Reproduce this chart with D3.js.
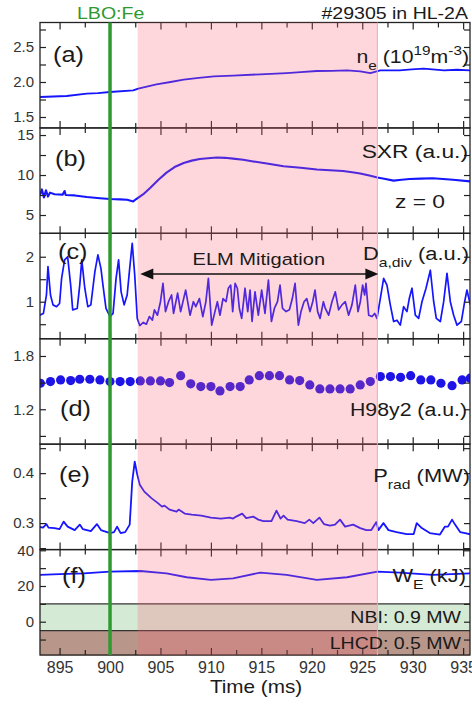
<!DOCTYPE html>
<html>
<head>
<meta charset="utf-8">
<script src="https://cdn.jsdelivr.net/npm/d3@7.9.0/dist/d3.min.js"></script>
<style>
  body { margin: 0; background: #fff; }
  svg { display: block; font-family: "Liberation Sans", Arial, sans-serif; }
</style>
</head>
<body>
<svg id="chart" width="472" height="706"></svg>
<script>
// ---- data (time in ms) ----
const timeTicks = [895, 900, 905, 910, 915, 920, 925, 930, 935];
const minorTicks = [897.5, 902.5, 907.5, 912.5, 917.5, 922.5, 927.5, 932.5];
const lboTime = 900;
const mitigation = [902.74, 926.5];

// (a) density, 10^19 m^-3
const neData = [
  [893.06, 1.786], [895.7, 1.80], [897.7, 1.833], [898.8, 1.84], [900.0, 1.857],
  [902.3, 1.88], [902.8, 1.905], [904.6, 1.967], [906.0, 2.0], [907.3, 2.033],
  [908.8, 2.06], [910.3, 2.081], [912.2, 2.09], [914.9, 2.11], [917.5, 2.128],
  [918.9, 2.14], [920.5, 2.157], [922.0, 2.16], [923.5, 2.167], [924.8, 2.152],
  [925.8, 2.128], [926.8, 2.167], [928.7, 2.167], [929.9, 2.18], [931.1, 2.19],
  [933.1, 2.167], [934.4, 2.175], [935.7, 2.167]
];

// (b) SXR, a.u.
const sxrData = [
  [893.06, 7.5], [893.25, 8.2], [893.45, 7.2], [893.65, 8.1], [893.85, 7.3], [894.05, 7.8],
  [894.5, 7.6], [895.3, 7.55], [895.5, 8.0], [895.6, 7.5], [896.5, 7.45], [897.7, 7.25],
  [899.0, 7.1], [900.0, 7.0], [901.0, 6.95], [901.7, 6.9], [902.3, 6.7], [902.6, 7.0],
  [903.3, 7.6], [904.0, 8.4], [904.8, 9.4], [905.6, 10.3], [906.4, 11.0], [907.3, 11.5],
  [908.1, 11.8], [908.9, 12.0], [909.7, 12.1], [910.6, 12.2], [911.4, 12.15], [912.2, 12.05],
  [913.2, 11.9], [914.2, 11.7], [915.7, 11.4], [917.2, 11.1], [918.9, 10.9], [920.5, 10.7],
  [921.8, 10.6], [923.1, 10.5], [924.0, 10.35], [924.8, 10.2], [925.7, 9.95], [926.5, 9.7],
  [927.3, 9.5], [928.1, 9.3], [928.9, 9.4], [929.7, 9.5], [930.8, 9.55], [932.0, 9.6],
  [933.0, 9.5], [934.0, 9.4], [935.7, 9.2]
];

// (c) D-alpha at divertor, a.u.
const dalphaData = [
  [893.0, 0.70], [893.4, 0.74], [893.7, 1.15], [893.85, 1.78], [894.1, 1.15], [894.35, 0.93],
  [894.7, 0.89], [895.0, 0.96], [895.2, 1.52], [895.5, 1.93], [895.8, 2.0], [896.1, 1.37],
  [896.3, 0.82], [896.75, 0.85], [897.0, 1.37], [897.2, 1.93], [897.5, 1.30], [897.8, 0.89],
  [898.1, 0.93], [898.5, 1.67], [898.8, 2.04], [899.1, 1.74], [899.3, 1.37], [899.6, 0.85],
  [900.0, 0.67], [900.3, 0.74], [900.6, 1.52], [900.85, 1.93], [901.1, 1.22], [901.4, 0.93],
  [901.7, 1.15], [901.95, 1.74], [902.2, 2.30], [902.45, 1.59], [902.7, 0.63], [902.95, 0.47],
  [903.3, 0.54], [903.6, 0.50], [903.9, 0.67], [904.2, 0.59], [904.4, 0.82], [904.7, 0.70],
  [905.0, 1.0], [905.25, 1.41], [905.5, 0.78], [905.8, 1.0], [906.1, 1.15], [906.3, 0.74],
  [906.7, 1.19], [907.0, 0.78], [907.5, 1.26], [907.93, 0.70], [908.26, 1.0], [908.5, 0.89],
  [908.86, 1.07], [909.2, 0.67], [909.5, 1.0], [909.75, 1.52], [910.08, 0.48], [910.4, 0.78],
  [910.64, 1.0], [910.9, 0.70], [911.2, 1.07], [911.5, 1.0], [911.73, 1.30], [911.96, 1.37],
  [912.16, 0.78], [912.4, 1.41], [912.62, 1.30], [912.82, 0.85], [913.05, 0.63], [913.38, 1.30],
  [913.65, 0.78], [913.88, 1.26], [914.08, 0.56], [914.37, 1.22], [914.7, 0.70], [915.03, 1.26],
  [915.36, 0.74], [915.7, 1.48], [916.0, 0.56], [916.29, 0.85], [916.6, 1.0], [916.85, 1.37],
  [917.1, 0.85], [917.45, 0.78], [917.78, 0.82], [918.07, 1.07], [918.34, 1.41], [918.67, 0.48],
  [918.93, 0.78], [919.23, 1.0], [919.5, 1.07], [919.82, 0.78], [920.09, 1.0], [920.32, 1.26],
  [920.58, 0.78], [920.82, 0.63], [921.15, 1.0], [921.34, 0.85], [921.67, 0.70], [922.0, 1.0],
  [922.33, 1.22], [922.66, 0.82], [922.99, 0.93], [923.32, 1.0], [923.65, 0.70], [923.98, 0.93],
  [924.31, 1.37], [924.58, 0.78], [924.81, 1.0], [925.04, 1.37], [925.24, 1.15], [925.37, 1.41],
  [925.64, 0.70], [925.97, 0.67], [926.23, 0.74], [926.46, 0.63], [926.79, 1.07], [927.12, 1.52],
  [927.45, 1.37], [927.78, 0.93], [928.11, 0.56], [928.44, 0.59], [928.77, 0.48], [929.1, 0.89],
  [929.43, 0.78], [929.66, 1.07], [929.93, 1.30], [930.26, 0.70], [930.59, 0.63], [930.92, 1.0],
  [931.32, 1.30], [931.75, 1.70], [932.08, 1.0], [932.34, 0.63], [932.74, 0.56], [933.07, 1.0],
  [933.4, 1.63], [933.73, 1.0], [934.06, 0.70], [934.39, 0.48], [934.82, 0.56], [935.15, 1.0],
  [935.38, 1.26], [935.71, 0.93]
];

// (d) H98y2, a.u.
const h98Times = [
  893.1, 894.1, 895.1, 896.1, 897.0, 898.0, 899.0, 900.0, 901.0, 902.0, 903.0, 904.0,
  905.0, 905.9, 907.0, 908.0, 909.0, 910.0, 910.9, 911.9, 912.9, 913.8, 914.8, 915.8,
  916.8, 917.8, 918.8, 919.8, 920.8, 921.8, 922.8, 923.8, 924.8, 925.8, 926.8, 927.8,
  928.8, 929.8, 930.8, 931.8, 932.8, 933.9, 934.9, 935.7
];
const h98Values = [
  1.493, 1.512, 1.530, 1.523, 1.538, 1.538, 1.530, 1.512, 1.512, 1.512, 1.519, 1.519,
  1.519, 1.500, 1.578, 1.486, 1.455, 1.455, 1.406, 1.455, 1.455, 1.530, 1.578, 1.578,
  1.578, 1.530, 1.523, 1.474, 1.429, 1.429, 1.429, 1.429, 1.474, 1.512, 1.568, 1.568,
  1.560, 1.578, 1.530, 1.530, 1.493, 1.466, 1.530, 1.550
];

// (e) radiated power, MW
const pradData = [
  [892.86, 0.293], [893.36, 0.291], [893.7, 0.298], [893.9, 0.291], [894.5, 0.290], [895.0, 0.288],
  [895.4, 0.303], [895.8, 0.293], [896.5, 0.286], [897.0, 0.297], [897.3, 0.288], [898.1, 0.284],
  [898.7, 0.298], [899.1, 0.286], [900.0, 0.280], [900.4, 0.282], [900.7, 0.293], [901.05, 0.280],
  [901.5, 0.282], [901.95, 0.297], [902.2, 0.383], [902.45, 0.423], [902.7, 0.397], [902.95, 0.377],
  [903.4, 0.363], [904.1, 0.350], [904.75, 0.340], [905.15, 0.333], [905.4, 0.335], [905.9, 0.327],
  [906.6, 0.323], [906.8, 0.327], [907.4, 0.319], [908.1, 0.317], [909.05, 0.315], [910.0, 0.311],
  [911.0, 0.309], [911.85, 0.311], [912.2, 0.309], [912.5, 0.313], [913.1, 0.319], [913.5, 0.310],
  [914.2, 0.313], [914.7, 0.307], [915.2, 0.304], [916.0, 0.304], [916.5, 0.325], [916.9, 0.309],
  [917.2, 0.315], [917.6, 0.307], [918.5, 0.304], [919.3, 0.300], [919.75, 0.307], [920.15, 0.300],
  [920.75, 0.311], [921.2, 0.298], [921.8, 0.295], [922.3, 0.297], [922.8, 0.307], [923.3, 0.293],
  [924.1, 0.297], [924.8, 0.290], [925.4, 0.286], [925.9, 0.286], [926.4, 0.302], [926.6, 0.286],
  [927.1, 0.300], [927.6, 0.286], [928.4, 0.282], [929.4, 0.278], [930.1, 0.278], [930.4, 0.300],
  [930.9, 0.290], [931.7, 0.280], [932.7, 0.277], [933.2, 0.293], [933.5, 0.293], [933.9, 0.307],
  [934.2, 0.297], [934.7, 0.282], [935.2, 0.280], [935.85, 0.277]
];

// (f) stored energy, kJ
const weData = [
  [893.06, 26.2], [895.0, 26.6], [897.4, 27.1], [900.0, 28.0], [903.0, 28.4], [905.6, 27.1],
  [907.6, 24.9], [910.0, 23.4], [912.2, 24.3], [914.9, 27.5], [917.5, 26.2], [920.5, 23.4],
  [923.5, 24.9], [926.5, 28.0], [928.7, 27.5], [932.0, 26.2], [935.7, 27.1]
];

// heating bands drawn in panel (f), kJ-axis units
const nbiBand = [10, -5];
const lhcdBand = [-5, -19];

// ---- layout ----
const svg = d3.select("#chart");
const plotL = 40, plotR = 470, plotT = 22.5, plotB = 655;
const panelH = (plotB - plotT) / 6;
const blue = "#1515ff";

const x = d3.scaleLinear().domain([893.06, 935.68]).range([plotL, plotR]);

const panels = [
  { domain: [1.344, 2.85], ticks: [1.5, 1.75, 2, 2.25, 2.5, 2.75], labels: [1.5, 2, 2.5], fmt: d3.format(".1f") },
  { domain: [2.71, 15.89], ticks: [5, 7.5, 10, 12.5, 15], labels: [5, 10, 15], fmt: d3.format("d") },
  { domain: [0.177, 2.52], ticks: [0.5, 1, 1.5, 2], labels: [1, 2], fmt: d3.format("d") },
  { domain: [0.807, 1.994], ticks: [0.9, 1.2, 1.5, 1.8], labels: [1.2, 1.8], fmt: d3.format(".1f") },
  { domain: [0.247, 0.458], ticks: [0.25, 0.3, 0.35, 0.4, 0.45], labels: [0.3, 0.4], fmt: d3.format(".1f") },
  { domain: [-18.65, 40.4], ticks: [-10, 0, 10, 20, 30, 40], labels: [0, 20, 40], fmt: d3.format("d") }
];
panels.forEach((p, i) => {
  p.y0 = plotT + i * panelH;
  p.y1 = p.y0 + panelH;
  p.y = d3.scaleLinear().domain(p.domain).range([p.y1, p.y0]);
  svg.append("clipPath").attr("id", "clip" + i)
    .append("rect").attr("x", plotL).attr("y", p.y0).attr("width", plotR - plotL).attr("height", panelH);
});

// heating bands in (f)
const pf = panels[5];
svg.append("rect").attr("x", plotL).attr("width", plotR - plotL)
  .attr("y", pf.y(nbiBand[0])).attr("height", pf.y(nbiBand[1]) - pf.y(nbiBand[0]))
  .attr("fill", "#d4ead4");
svg.append("rect").attr("x", plotL).attr("width", plotR - plotL)
  .attr("y", pf.y(lhcdBand[0])).attr("height", pf.y(lhcdBand[1]) - pf.y(lhcdBand[0]))
  .attr("fill", "#b8978a");
[nbiBand[0], lhcdBand[0]].forEach(v => {
  svg.append("line").attr("x1", plotL).attr("x2", plotR)
    .attr("y1", pf.y(v)).attr("y2", pf.y(v))
    .attr("stroke", "#333").attr("stroke-width", 1.2);
});

// traces
function trace(i, data, width) {
  const p = panels[i];
  svg.append("path")
    .datum(data)
    .attr("clip-path", `url(#clip${i})`)
    .attr("fill", "none")
    .attr("stroke", blue)
    .attr("stroke-width", width || 1.8)
    .attr("stroke-linejoin", "round")
    .attr("d", d3.line().x(d => x(d[0])).y(d => p.y(d[1])));
}
trace(0, neData);
trace(1, sxrData, 2.1);
trace(2, dalphaData, 1.7);
trace(4, pradData);
trace(5, weData);

svg.append("g").attr("clip-path", "url(#clip3)")
  .selectAll("circle")
  .data(h98Times.map((t, k) => [t, h98Values[k]]))
  .join("circle")
  .attr("cx", d => x(d[0]))
  .attr("cy", d => panels[3].y(d[1]))
  .attr("r", 4.6)
  .attr("fill", "#1e14e6");

// axes and frames
panels.forEach((p, i) => {
  const g = svg.append("g");
  const lab = d => p.labels.includes(d) ? p.fmt(d) : "";
  g.append("g").attr("transform", `translate(${plotL},0)`)
    .call(d3.axisLeft(p.y).tickValues(p.ticks).tickSizeInner(-6).tickSizeOuter(0).tickPadding(6).tickFormat(lab))
    .call(a => a.select(".domain").remove())
    .call(a => a.selectAll("text").attr("font-size", 15).attr("fill", "#333"));
  g.append("g").attr("transform", `translate(${plotR},0)`)
    .call(d3.axisRight(p.y).tickValues(p.ticks).tickSizeInner(-6).tickSizeOuter(0).tickFormat(""))
    .call(a => a.select(".domain").remove());
  [[timeTicks, 7], [minorTicks, 5]].forEach(([vals, len]) => {
    g.append("g").attr("transform", `translate(0,${p.y0})`)
      .call(d3.axisBottom(x).tickValues(vals).tickSizeInner(len).tickSizeOuter(0).tickFormat(""))
      .call(a => a.select(".domain").remove());
    g.append("g").attr("transform", `translate(0,${p.y1})`)
      .call(d3.axisTop(x).tickValues(vals).tickSizeInner(len).tickSizeOuter(0).tickFormat(""))
      .call(a => a.select(".domain").remove());
  });
  g.selectAll("g[font-family]").attr("font-family", null);
  g.selectAll(".tick line").attr("stroke", "#222").attr("stroke-width", 1.2);
  g.append("rect").attr("x", plotL).attr("y", p.y0).attr("width", plotR - plotL).attr("height", panelH)
    .attr("fill", "none").attr("stroke", "#222").attr("stroke-width", 1.3);
});

// time labels
svg.append("g").attr("transform", `translate(0,${plotB})`)
  .call(d3.axisBottom(x).tickValues(timeTicks).tickSize(0).tickPadding(7).tickFormat(d3.format("d")))
  .call(a => a.select(".domain").remove())
  .attr("font-family", null)
  .call(a => a.selectAll("text").attr("font-size", 16).attr("fill", "#333"));

// ELM mitigation window
svg.append("rect")
  .attr("x", x(mitigation[0])).attr("width", x(mitigation[1]) - x(mitigation[0]))
  .attr("y", plotT).attr("height", plotB - plotT)
  .attr("fill", "rgb(250,100,120)").attr("opacity", 0.26);
svg.append("line")
  .attr("x1", x(mitigation[1])).attr("x2", x(mitigation[1]))
  .attr("y1", plotT).attr("y2", plotB)
  .attr("stroke", "#f4a6bd").attr("stroke-width", 1);

// LBO injection time
svg.append("line")
  .attr("x1", x(lboTime)).attr("x2", x(lboTime))
  .attr("y1", plotT).attr("y2", plotB)
  .attr("stroke", "#2f9a2f").attr("stroke-width", 3.5);

// text helper: horizontally stretched like the source figure
function label(x0, y0, parts, o = {}) {
  const size = o.size || 18;
  const t = svg.append("text")
    .attr("transform", `translate(${x0},${y0}) scale(${o.sx || 1.18},1)`)
    .attr("text-anchor", o.anchor || "start")
    .attr("font-size", size)
    .attr("fill", o.fill || "#1a1a1a");
  let shift = 0;
  parts.forEach(p => {
    const [str, kind] = Array.isArray(p) ? p : [p, null];
    const target = kind === "sub" ? size * 0.35 : kind === "sup" ? -size * 0.42 : 0;
    t.append("tspan")
      .attr("dy", target - shift)
      .attr("font-size", kind ? size * 0.72 : size)
      .text(str);
    shift = target;
  });
}

label(77, 18.5, ["LBO:Fe"], { size: 17, fill: "#2e9a2e", sx: 1.15 });
label(468, 18.5, ["#29305 in HL-2A"], { size: 17, anchor: "end", sx: 1.15 });

label(53, 62, ["(a)"], { size: 22, sx: 1.15 });
label(469, 63, ["n", ["e", "sub"], " (10", ["19", "sup"], "m", ["-3", "sup"], ")"], { size: 19, anchor: "end", sx: 1.12 });

label(55, 166, ["(b)"], { size: 22, sx: 1.15 });
label(468, 158, ["SXR (a.u.)"], { size: 19, anchor: "end", sx: 1.2 });
label(395, 208, ["z = 0"], { size: 19, sx: 1.2 });

label(58, 259, ["(c)"], { size: 22, sx: 1.15 });
label(469, 260, ["D", ["a,div", "sub"], " (a.u.)"], { size: 19, anchor: "end", sx: 1.15 });
label((x(903) + x(926.5)) / 2, 265, ["ELM Mitigation"], { size: 17, anchor: "middle", sx: 1.18 });

// double arrow
const ay = 274, ax0 = x(903), ax1 = x(926.6);
svg.append("line").attr("x1", ax0 + 10).attr("x2", ax1 - 10).attr("y1", ay).attr("y2", ay)
  .attr("stroke", "#111").attr("stroke-width", 1.5);
svg.append("path").attr("d", `M${ax0},${ay} L${ax0 + 13},${ay - 5.5} L${ax0 + 13},${ay + 5.5} Z`).attr("fill", "#111");
svg.append("path").attr("d", `M${ax1},${ay} L${ax1 - 13},${ay - 5.5} L${ax1 - 13},${ay + 5.5} Z`).attr("fill", "#111");

label(60, 416, ["(d)"], { size: 22, sx: 1.15 });
label(467, 416, ["H98y2 (a.u.)"], { size: 19, anchor: "end", sx: 1.12 });

label(59, 482, ["(e)"], { size: 22, sx: 1.15 });
label(470, 482, ["P", ["rad", "sub"], " (MW)"], { size: 19, anchor: "end", sx: 1.15 });

label(62, 583, ["(f)"], { size: 22, sx: 1.15 });
label(466, 582, ["W", ["E", "sub"], " (kJ)"], { size: 19, anchor: "end", sx: 1.15 });

label(461, 623, ["NBI: 0.9 MW"], { size: 17, anchor: "end", sx: 1.15 });
label(461, 649, ["LHCD: 0.5 MW"], { size: 17, anchor: "end", sx: 1.15 });

label(256, 693, ["Time (ms)"], { size: 18, anchor: "middle", sx: 1.15 });
</script>
</body>
</html>
